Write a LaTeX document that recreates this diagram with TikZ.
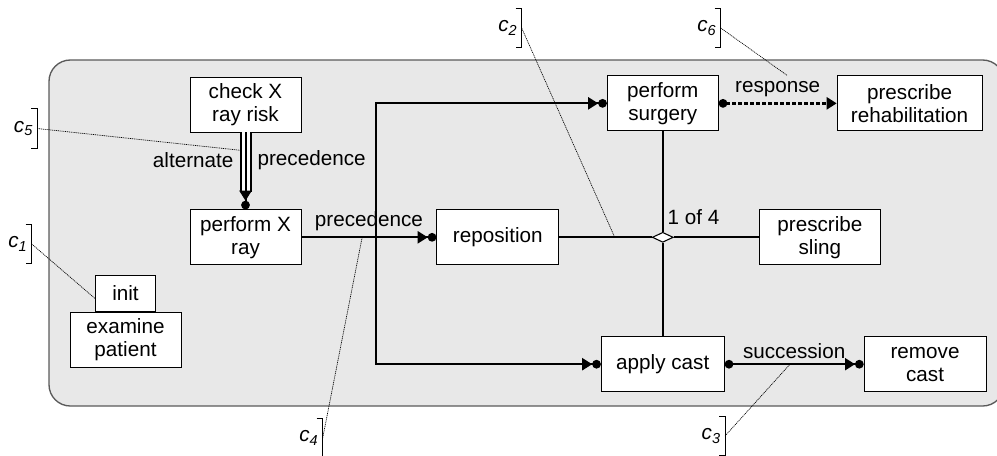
\documentclass[tikz,border=0pt]{standalone}
\usepackage{fontspec}
\setmainfont{Liberation Sans}
\usetikzlibrary{shapes.geometric,arrows.meta,positioning}
\definecolor{panelgray}{HTML}{E8E8E8}
\definecolor{paneledge}{HTML}{5A5A5A}
\newcommand{\figfont}{\fontsize{15.5}{17.25}\selectfont}

\begin{document}
\begin{tikzpicture}[x=0.75pt,y=-0.75pt,font=\figfont,
    act/.style={draw,fill=white,line width=0.6pt,minimum height=41.25pt,align=center,inner sep=2pt},
    flow/.style={line width=1.5pt},
    topre/.style={-{Triangle[length=7.5pt,width=9pt,sep=0pt]Circle[length=6.5pt]}},
    resp/.style={line width=1.8pt,dash pattern=on 3pt off 1.5pt,{Circle[length=6.5pt]}-{Triangle[length=7.5pt,width=9pt]}},
    succ/.style={line width=1.5pt,{Circle[length=6.5pt]}-{Triangle[length=7.5pt,width=9pt,sep=0pt]Circle[length=6.5pt]}},
    cnote/.style={anchor=east,minimum height=29.25pt,inner sep=0pt,inner xsep=3pt,font=\figfont\itshape},
    brk/.style={line width=0.6pt},
    note/.style={line width=0.5pt,dash pattern=on 0.8pt off 0.6pt}]
    \clip (0,0) rectangle (997,455);
    \draw[fill=panelgray,draw=paneledge,line width=1pt,rounded corners=16pt] (49,60) rectangle (1004,406);

    % activities
    \node[act,minimum width=83.25pt] (check) at (245.5,104.5) {check X\\ray risk};
    \node[act,minimum width=83.25pt,below=57.75pt of check] (xray) {perform X\\ray};
    \node[act,minimum width=91.5pt,right=101.25pt of xray] (repos) {reposition};
    \node[draw,fill=white,diamond,aspect=2,minimum width=15.75pt,minimum height=7.5pt,inner sep=0pt,line width=0.8pt,right=69.4pt of repos] (orj) {};
    \node[act,minimum width=90.75pt,right=63.9pt of orj] (sling) {prescribe\\sling};
    \node[act,minimum width=83.25pt,above=75.4pt of orj] (surgery) {perform\\surgery};
    \node[act,minimum width=108.75pt,right=88.5pt of surgery] (rehab) {prescribe\\rehabilitation};
    \node[act,minimum width=92.25pt,below=70.1pt of orj] (cast) {apply cast};
    \node[act,minimum width=91.5pt,right=104.25pt of cast] (remove) {remove\\cast};
    \node[act,minimum width=83.25pt] (examine) at (125.5,339.5) {examine\\patient};
    \node[act,minimum width=45pt,minimum height=27pt,above=0pt of examine] (init) {init};
    \node (orlbl) at (693.5,217) {1 of 4};

    % constraints
    \draw[line width=9pt] (check) -- coordinate[pos=0.3] (altmid) ([yshift=13pt]xray.north);
    \draw[line width=6pt,white] (check) -- ([yshift=13pt]xray.north);
    \draw[flow,topre] (check) -- node[pos=0.36,left=5pt]{alternate} node[pos=0.36,right=5pt]{precedence} (xray);
    \draw[flow,topre] (xray) -- node[above=1pt]{precedence} coordinate[pos=0.45] (c4pt) coordinate[pos=0.55] (split) (repos);
    \draw[flow,topre] (split) |- (surgery);
    \draw[flow,topre] (split) |- (cast);
    \draw[flow] (repos) -- coordinate[pos=0.6] (c2pt) (orj);
    \draw[flow] (orj) -- (sling);
    \draw[flow] (orj) -- (surgery);
    \draw[flow] (orj) -- (cast);
    \draw[resp] (surgery) -- node[above=1pt] (resplbl) {response} (rehab);
    \draw[succ] (cast) -- node[above=0pt]{succession} coordinate[pos=0.47] (c3pt) (remove);

    % constraint names
    \node[cnote] (c1) at (31.7,244) {c\textsubscript{1}};
    \node[cnote] (c2) at (521.7,28) {c\textsubscript{2}};
    \node[cnote] (c3) at (725,436) {c\textsubscript{3}};
    \node[cnote] (c4) at (322.7,438) {c\textsubscript{4}};
    \node[cnote] (c5) at (37.3,128.5) {c\textsubscript{5}};
    \node[cnote] (c6) at (720.7,28) {c\textsubscript{6}};
    \foreach \n in {c1,c2,c3,c4,c5,c6}
      \draw[brk] ([xshift=-4.5pt]\n.north east) -- (\n.north east) -- (\n.south east) -- ([xshift=-4.5pt]\n.south east);
    \draw[note] (c1.east) -- (init.190);
    \draw[note] (c2.east) -- (c2pt);
    \draw[note] (c3.east) -- (c3pt);
    \draw[note] (c4.east) -- (c4pt);
    \draw[note] (c5.east) -- ([xshift=-3.75pt]altmid);
    \draw[note] (c6.east) -- (resplbl.55);
\end{tikzpicture}
\end{document}
